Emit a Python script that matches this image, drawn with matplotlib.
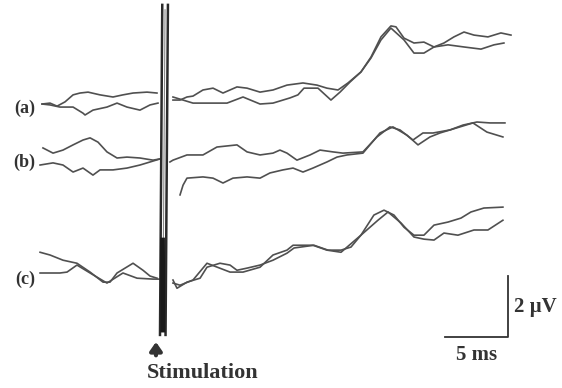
import numpy as np
import matplotlib
matplotlib.use("Agg")
import matplotlib.pyplot as plt

# Trazas promediadas: tiempo en ms (0 = estimulo), amplitud en uV
# nan = hueco del artefacto de estimulacion
a1_t = [-9.44, -8.81, -8.25, -7.62, -6.98, -6.43, -5.79, -4.84, -3.81, -3.02, -2.22, -1.11, -0.32, np.nan,
        0.95, 1.51, 2.06, 2.54, 3.33, 4.13, 4.92, 6.03, 6.83, 7.86, 8.89, 10.00, 11.27, 12.38, 13.17, 14.05,
        14.84, 15.87, 16.67, 17.46, 18.25, 18.65, 19.29, 20.08, 20.87, 21.67, 22.46, 23.25, 24.05, 24.84,
        25.95, 26.98, 27.78]
a1_v = [0.00, 0.03, -0.07, 0.07, 0.30, 0.36, 0.39, 0.30, 0.23, 0.30, 0.36, 0.39, 0.36, np.nan,
        0.13, 0.13, 0.23, 0.26, 0.46, 0.52, 0.36, 0.56, 0.52, 0.39, 0.46, 0.62, 0.69, 0.62, 0.52, 0.46,
        0.69, 1.05, 1.54, 2.20, 2.56, 2.53, 2.16, 2.00, 2.03, 1.87, 2.00, 2.20, 2.36, 2.26,
        2.20, 2.33, 2.26]

a2_t = [-9.44, -8.81, -8.02, -6.98, -6.19, -6.03, -5.40, -4.29, -3.49, -2.70, -1.67, -0.87, -0.24, np.nan,
        0.95, 2.54, 3.65, 5.24, 6.51, 7.86, 8.89, 10.24, 10.87, 11.35, 12.46, 13.49, 14.21, 15.00, 15.87,
        16.67, 17.46, 18.25, 19.29, 20.08, 20.87, 21.67, 22.78, 24.05, 25.40, 26.43, 27.22]
a2_v = [0.00, -0.03, -0.10, -0.10, -0.30, -0.36, -0.20, -0.10, 0.03, -0.10, -0.20, -0.03, 0.03, np.nan,
        0.23, 0.03, 0.03, 0.03, 0.23, 0.00, 0.03, 0.20, 0.30, 0.52, 0.52, 0.13, 0.39, 0.72, 1.05,
        1.51, 2.10, 2.49, 2.10, 1.67, 1.67, 1.87, 1.94, 1.87, 1.80, 1.94, 2.00]

b1_t = [-9.37, -8.57, -7.78, -6.98, -6.19, -5.63, -5.00, -4.29, -3.49, -2.70, -1.67, -0.63, -0.08, np.nan,
        0.71, 0.95, 2.06, 3.33, 4.44, 6.03, 6.83, 7.86, 8.89, 9.44, 10.00, 10.79, 11.83, 12.62, 13.65,
        14.44, 16.03, 17.14, 18.17, 18.97, 20.00, 20.79, 21.59, 22.94, 23.97, 25.08, 26.11, 27.30]
b1_v = [0.33, 0.16, 0.26, 0.43, 0.59, 0.66, 0.52, 0.20, 0.00, 0.03, 0.00, -0.07, -0.03, np.nan,
        -0.13, -0.07, 0.10, 0.10, 0.36, 0.43, 0.20, 0.10, 0.16, 0.26, 0.16, -0.07, 0.10, 0.26, 0.20,
        0.16, 0.20, 0.69, 1.02, 0.92, 0.59, 0.82, 0.82, 0.92, 1.08, 1.18, 1.15, 1.15]

b2_t = [-9.60, -8.57, -7.78, -6.98, -6.19, -5.40, -4.84, -3.81, -2.70, -1.67, -0.87, -0.08, np.nan,
        1.51, 1.75, 2.06, 3.33, 4.13, 4.92, 5.71, 6.83, 7.86, 8.65, 9.68, 10.48, 11.27, 12.06, 13.17,
        13.97, 14.76, 16.03, 17.38, 18.41, 19.52, 20.40, 21.35, 22.14, 23.73, 24.76, 25.87, 27.14]
b2_v = [-0.23, -0.16, -0.23, -0.46, -0.33, -0.56, -0.39, -0.39, -0.33, -0.23, -0.13, -0.03, np.nan,
        -1.21, -0.89, -0.66, -0.62, -0.66, -0.82, -0.66, -0.62, -0.66, -0.49, -0.39, -0.33, -0.46, -0.33, -0.13,
        0.03, 0.10, 0.16, 0.82, 1.02, 0.75, 0.43, 0.69, 0.82, 1.02, 1.15, 0.85, 0.69]

c1_t = [-9.60, -8.81, -7.78, -6.67, -5.63, -4.60, -4.05, -3.49, -2.22, -1.43, -0.87, -0.32, np.nan,
        0.95, 1.27, 2.06, 3.10, 3.65, 4.68, 5.48, 6.03, 6.83, 7.86, 8.89, 10.00, 10.56, 12.14, 13.25,
        14.29, 15.08, 15.87, 16.90, 17.70, 18.49, 19.29, 20.08, 20.87, 21.67, 22.78, 23.81, 24.60, 25.63, 27.14]
c1_v = [0.75, 0.66, 0.49, 0.39, 0.10, -0.23, -0.23, 0.07, 0.39, 0.16, -0.03, -0.10, np.nan,
        -0.16, -0.43, -0.23, -0.10, 0.26, 0.39, 0.33, 0.16, 0.23, 0.33, 0.49, 0.72, 0.89, 0.98, 0.82,
        0.82, 0.92, 1.31, 1.97, 2.13, 1.97, 1.57, 1.31, 1.31, 1.64, 1.74, 1.87, 2.07, 2.20, 2.23]

c2_t = [-9.60, -8.02, -7.46, -6.67, -5.63, -4.29, -3.02, -1.90, -0.63, -0.08, np.nan,
        0.95, 1.51, 2.54, 3.65, 5.48, 6.51, 7.86, 8.89, 10.00, 10.48, 12.06, 13.17, 14.29, 15.87, 17.22,
        18.02, 19.05, 20.08, 20.87, 21.67, 22.46, 23.57, 24.84, 25.95, 27.14]
c2_v = [0.07, 0.07, 0.10, 0.33, 0.07, -0.26, 0.07, -0.10, -0.13, -0.13, np.nan,
        -0.26, -0.33, -0.16, 0.39, 0.10, 0.10, 0.26, 0.66, 0.82, 0.98, 0.98, 0.82, 0.75, 1.31, 1.80,
        2.07, 1.71, 1.25, 1.18, 1.15, 1.38, 1.31, 1.48, 1.48, 1.80]

etiquetas = ["(a)", "(b)", "(c)"]
desplaz = [9.31, 7.54, 3.70]   # linea base de cada registro en la figura (uV)

# Artefacto de estimulo (t arriba, t abajo)
artefacto = [(0.10, -0.08), (0.55, 0.36)]

# Barra de escala
escala_ms = 5
escala_uv = 2

fig = plt.figure(figsize=(5.62, 3.88), dpi=100)
ax = fig.add_axes([0, 0, 1, 1])
ax.set_xlim(-12.78, 31.83)
ax.set_ylim(0, 12.72)
ax.axis("off")

color = "#505050"
trazas = [(a1_t, a1_v, a2_t, a2_v), (b1_t, b1_v, b2_t, b2_v), (c1_t, c1_v, c2_t, c2_v)]
for (t1, v1, t2, v2), off, lab in zip(trazas, desplaz, etiquetas):
    ax.plot(t1, np.array(v1) + off, color=color, lw=1.2)
    ax.plot(t2, np.array(v2) + off, color=color, lw=1.2)
    ax.text(-10.0, off - 0.15, lab, ha="right", va="center", fontsize=13,
            family="Liberation Serif", weight="bold", color="#333333")

# Artefacto
for t_top, t_bot in artefacto:
    ax.plot([t_top, t_bot], [12.56, 1.74], color="#2a2a2a", lw=1.8)
ax.plot([0.32, 0.14], [12.4, 1.9], color="#888888", lw=0.8)
ax.plot([0.12, 0.14], [4.85, 1.9], color="#1a1a1a", lw=3.5)

# Flecha y texto
ax.annotate("", xy=(-0.4, 1.6), xytext=(-0.4, 0.98),
            arrowprops=dict(arrowstyle="-|>,head_width=0.35,head_length=0.5", lw=3, color="#333333"))
ax.text(3.3, 0.5, "Stimulation", ha="center", va="center", fontsize=16,
        family="Liberation Serif", weight="bold", color="#333333")

# Barra de escala
x0, y0 = 27.54, 1.67
ax.plot([x0 - escala_ms, x0, x0], [y0, y0, y0 + escala_uv], color="#333333", lw=1.3)
ax.text(x0 + 0.45, y0 + escala_uv / 2, "2 \u00b5V", ha="left", va="center", fontsize=15,
        family="Liberation Serif", weight="bold", color="#333333")
ax.text(x0 - escala_ms / 2, y0 - 0.6, "5 ms", ha="center", va="center", fontsize=15,
        family="Liberation Serif", weight="bold", color="#333333")

fig.savefig("out.png", dpi=100)
